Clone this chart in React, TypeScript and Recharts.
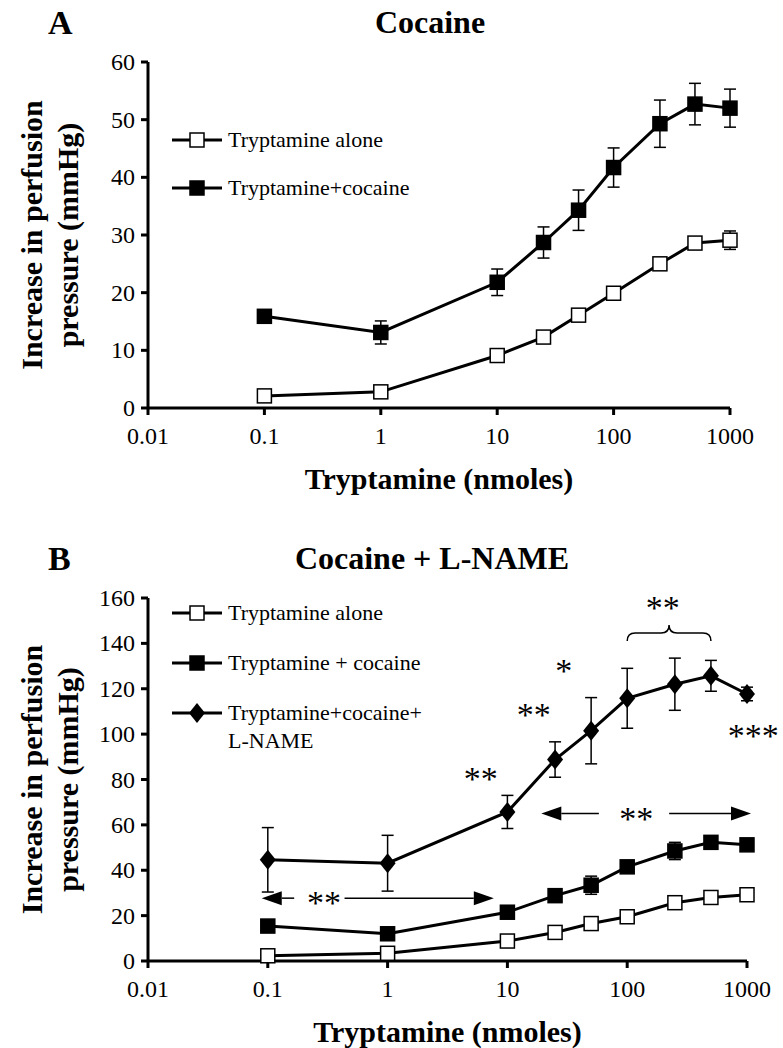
import React from 'react';
import {
  LineChart,
  Line,
  XAxis,
  YAxis,
  ErrorBar,
  ReferenceDot,
  ReferenceLine,
} from 'recharts';

// tryptamine doses (nmoles)
const doses = [0.1, 1, 10, 25, 50, 100, 250, 500, 1000];
const xTicks = [0.01, 0.1, 1, 10, 100, 1000];

// panel A - cocaine
const aAlone = [2.1, 2.8, 9.1, 12.3, 16.1, 19.9, 25.0, 28.6, 29.1];
const aAloneErr = [0.6, 0.6, 1.0, 0.9, 0.8, 0.8, 1.0, 0.9, 1.6];
const aCocaine = [15.9, 13.1, 21.8, 28.7, 34.3, 41.7, 49.3, 52.7, 52.0];
const aCocaineErr = [1.1, 2.0, 2.3, 2.7, 3.5, 3.4, 4.1, 3.6, 3.3];
const aYTicks = [0, 10, 20, 30, 40, 50, 60];

// panel B - cocaine + L-NAME
const bAlone = [2.3, 3.4, 8.8, 12.6, 16.5, 19.5, 25.7, 28.0, 29.2];
const bAloneErr = [1, 1, 1, 1, 1, 1, 1.2, 1.5, 1.5];
const bCocaine = [15.4, 12.0, 21.5, 28.8, 33.4, 41.5, 48.5, 52.3, 51.2];
const bCocaineErr = [1.5, 1.5, 1.5, 2, 4, 2, 3.8, 2, 2];
const bLname = [44.6, 43.1, 65.7, 88.8, 101.5, 115.8, 122, 125.7, 117.7];
const bLnameErr = [14.2, 12.3, 7.3, 7.8, 14.6, 13.2, 11.5, 6.8, 3];
const bYTicks = [0, 20, 40, 60, 80, 100, 120, 140, 160];

// significance marks in panel B
const stars = [
  { x: 198, y: 157.7, text: '**' },
  { x: 29.5, y: 130, text: '*' },
  { x: 16.6, y: 110.8, text: '**' },
  { x: 6, y: 82.3, text: '**' },
  { x: 1130, y: 101.5, text: '***' },
  { x: 119, y: 65, text: '**' },
  { x: 0.295, y: 27.7, text: '**' },
];
// arrow pieces, head at "to"
const arrows = [
  { from: 58, to: 19.2, y: 65 },
  { from: 224, to: 1080, y: 65 },
  { from: 0.166, to: 0.089, y: 27.7 },
  { from: 0.437, to: 7.7, y: 27.7 },
];
const brace = { from: 100, to: 500, y: 141 };

const FONT = '"Liberation Serif", "Times New Roman", serif';

const dataA = doses.map((d, i) => ({
  dose: d,
  alone: aAlone[i],
  aloneErr: aAloneErr[i],
  cocaine: aCocaine[i],
  cocaineErr: aCocaineErr[i],
}));

const dataB = doses.map((d, i) => ({
  dose: d,
  alone: bAlone[i],
  aloneErr: bAloneErr[i],
  cocaine: bCocaine[i],
  cocaineErr: bCocaineErr[i],
  lname: bLname[i],
  lnameErr: bLnameErr[i],
}));

const squareDot = (filled: boolean) => (props: any) => {
  const { cx, cy, index } = props;
  if (cx == null || cy == null) return <g key={index} />;
  return (
    <rect
      key={index}
      x={cx - 7}
      y={cy - 7}
      width={14}
      height={14}
      fill={filled ? '#000' : '#fff'}
      stroke="#000"
      strokeWidth={1.5}
    />
  );
};

const diamondDot = (props: any) => {
  const { cx, cy, index } = props;
  if (cx == null || cy == null) return <g key={index} />;
  return (
    <polygon
      key={index}
      points={`${cx},${cy - 10} ${cx + 8},${cy} ${cx},${cy + 10} ${cx - 8},${cy}`}
      fill="#000"
    />
  );
};

const XTick = (props: any) => {
  const { x, y, payload } = props;
  return (
    <text x={x} y={y + 27} textAnchor="middle" fontFamily={FONT} fontSize={24} fill="#000">
      {String(payload.value)}
    </text>
  );
};

const YTick = (props: any) => {
  const { x, y, payload } = props;
  return (
    <text x={x} y={y + 8} textAnchor="end" fontFamily={FONT} fontSize={24} fill="#000">
      {String(payload.value)}
    </text>
  );
};

const YLabel = ({ viewBox }: any) => {
  const cy = viewBox.y + viewBox.height / 2;
  return (
    <g fontFamily={FONT} fontWeight="bold" fontSize={30} fill="#000">
      <text transform={`translate(31, ${cy}) rotate(-90)`} textAnchor="middle" dominantBaseline="central">
        Increase in perfusion
      </text>
      <text transform={`translate(67, ${cy}) rotate(-90)`} textAnchor="middle" dominantBaseline="central">
        pressure (mmHg)
      </text>
    </g>
  );
};

const XLabel = ({ viewBox }: any) => (
  <text
    x={viewBox.x + viewBox.width / 2}
    y={viewBox.y + 70}
    textAnchor="middle"
    dominantBaseline="central"
    fontFamily={FONT}
    fontWeight="bold"
    fontSize={30}
    fill="#000"
  >
    Tryptamine (nmoles)
  </text>
);

const StarShape = (text: string) => (props: any) => (
  <text
    x={props.cx}
    y={props.cy + 16}
    textAnchor="middle"
    fontFamily={FONT}
    fontSize={34}
    fill="#000"
  >
    {text}
  </text>
);

const ArrowShape = (props: any) => {
  const { x1, y1, x2 } = props;
  const dir = x2 > x1 ? 1 : -1;
  const tip = x2;
  const base = x2 - dir * 20;
  return (
    <g>
      <line x1={x1} y1={y1} x2={base} y2={y1} stroke="#000" strokeWidth={1.5} />
      <polygon points={`${tip},${y1} ${base},${y1 - 7} ${base},${y1 + 7}`} fill="#000" />
    </g>
  );
};

const BraceShape = (props: any) => {
  const { x1, y1, x2 } = props;
  const mid = (x1 + x2) / 2;
  const h = 8;
  const r = 8;
  const d = `M${x1},${y1} Q${x1},${y1 - h} ${x1 + r},${y1 - h} L${mid - r},${y1 - h} Q${mid},${y1 - h} ${mid},${y1 - 2 * h} Q${mid},${y1 - h} ${mid + r},${y1 - h} L${x2 - r},${y1 - h} Q${x2},${y1 - h} ${x2},${y1}`;
  return <path d={d} fill="none" stroke="#000" strokeWidth={1.5} />;
};

type Item = { label: string[]; dot: 'open' | 'filled' | 'diamond' };

const LegendBox = ({ items, gap, left, top }: { items: Item[]; gap: number; left: number; top: number }) => (
  <div style={{ position: 'absolute', left, top, fontFamily: FONT, fontSize: 22, color: '#000' }}>
    {items.map((it, i) => (
      <div key={i} style={{ display: 'flex', alignItems: 'flex-start', height: gap }}>
        <svg width={52} height={26} style={{ flex: 'none' }}>
          <line x1={0} y1={13} x2={50} y2={13} stroke="#000" strokeWidth={3} />
          {it.dot === 'diamond' ? (
            <polygon points="25,3 33,13 25,23 17,13" fill="#000" />
          ) : (
            <rect x={18} y={6} width={14} height={14} fill={it.dot === 'filled' ? '#000' : '#fff'} stroke="#000" strokeWidth={1.5} />
          )}
        </svg>
        <div style={{ marginLeft: 4, lineHeight: '28px', marginTop: -1 }}>
          {it.label.map((l, j) => (
            <div key={j}>{l}</div>
          ))}
        </div>
      </div>
    ))}
  </div>
);

const axisLine = { stroke: '#000', strokeWidth: 3 };

export default function App() {
  return (
    <div style={{ position: 'absolute', left: 0, top: 0, width: 783, height: 1048, background: '#fff', fontFamily: FONT }}>
      <div style={{ position: 'absolute', left: 0, top: 0 }}>
        <LineChart width={783} height={520} data={dataA} margin={{ top: 62, right: 53, bottom: 0, left: 0 }}>
          <XAxis
            dataKey="dose"
            type="number"
            scale="log"
            domain={[0.01, 1000]}
            ticks={xTicks}
            height={112}
            axisLine={axisLine}
            tickLine={axisLine}
            tickSize={7}
            tick={<XTick />}
            label={<XLabel />}
          />
          <YAxis
            type="number"
            domain={[0, 60]}
            ticks={aYTicks}
            width={148}
            axisLine={axisLine}
            tickLine={axisLine}
            tickSize={7}
            tickMargin={6}
            tick={<YTick />}
            label={<YLabel />}
          />
          <Line dataKey="cocaine" stroke="#000" strokeWidth={3} dot={squareDot(true)} isAnimationActive={false}>
            <ErrorBar dataKey="cocaineErr" direction="y" width={6} stroke="#000" strokeWidth={1.5} />
          </Line>
          <Line dataKey="alone" stroke="#000" strokeWidth={3} dot={squareDot(false)} isAnimationActive={false}>
            <ErrorBar dataKey="aloneErr" direction="y" width={6} stroke="#000" strokeWidth={1.5} />
          </Line>
        </LineChart>
      </div>
      <div style={{ position: 'absolute', left: 48, top: 4, fontSize: 34, fontWeight: 'bold' }}>A</div>
      <div style={{ position: 'absolute', left: 0, width: 860, top: 4, fontSize: 32, fontWeight: 'bold', textAlign: 'center' }}>
        Cocaine
      </div>
      <LegendBox
        left={172}
        top={127}
        gap={48}
        items={[
          { label: ['Tryptamine alone'], dot: 'open' },
          { label: ['Tryptamine+cocaine'], dot: 'filled' },
        ]}
      />

      <div style={{ position: 'absolute', left: 0, top: 520 }}>
        <LineChart width={783} height={528} data={dataB} margin={{ top: 78, right: 36, bottom: 0, left: 0 }}>
          <XAxis
            dataKey="dose"
            type="number"
            scale="log"
            domain={[0.01, 1000]}
            ticks={xTicks}
            height={87}
            axisLine={axisLine}
            tickLine={axisLine}
            tickSize={7}
            tick={<XTick />}
            label={<XLabel />}
          />
          <YAxis
            type="number"
            domain={[0, 160]}
            ticks={bYTicks}
            width={148}
            axisLine={axisLine}
            tickLine={axisLine}
            tickSize={7}
            tickMargin={6}
            tick={<YTick />}
            label={<YLabel />}
          />
          <Line dataKey="lname" stroke="#000" strokeWidth={3} dot={diamondDot} isAnimationActive={false}>
            <ErrorBar dataKey="lnameErr" direction="y" width={6} stroke="#000" strokeWidth={1.5} />
          </Line>
          <Line dataKey="cocaine" stroke="#000" strokeWidth={3} dot={squareDot(true)} isAnimationActive={false}>
            <ErrorBar dataKey="cocaineErr" direction="y" width={6} stroke="#000" strokeWidth={1.5} />
          </Line>
          <Line dataKey="alone" stroke="#000" strokeWidth={3} dot={squareDot(false)} isAnimationActive={false}>
            <ErrorBar dataKey="aloneErr" direction="y" width={6} stroke="#000" strokeWidth={1.5} />
          </Line>
          {stars.map((s, i) => (
            <ReferenceDot key={`s${i}`} x={s.x} y={s.y} r={0} ifOverflow="visible" shape={StarShape(s.text)} />
          ))}
          {arrows.map((a, i) => (
            <ReferenceLine
              key={`a${i}`}
              segment={[{ x: a.from, y: a.y }, { x: a.to, y: a.y }]}
              ifOverflow="visible"
              shape={ArrowShape}
            />
          ))}
          <ReferenceLine
            segment={[{ x: brace.from, y: brace.y }, { x: brace.to, y: brace.y }]}
            ifOverflow="visible"
            shape={BraceShape}
          />
        </LineChart>
      </div>
      <div style={{ position: 'absolute', left: 48, top: 540, fontSize: 34, fontWeight: 'bold' }}>B</div>
      <div style={{ position: 'absolute', left: 0, width: 864, top: 540, fontSize: 32, fontWeight: 'bold', textAlign: 'center' }}>
        Cocaine + L-NAME
      </div>
      <LegendBox
        left={172}
        top={600}
        gap={50}
        items={[
          { label: ['Tryptamine alone'], dot: 'open' },
          { label: ['Tryptamine + cocaine'], dot: 'filled' },
          { label: ['Tryptamine+cocaine+', 'L-NAME'], dot: 'diamond' },
        ]}
      />
    </div>
  );
}
